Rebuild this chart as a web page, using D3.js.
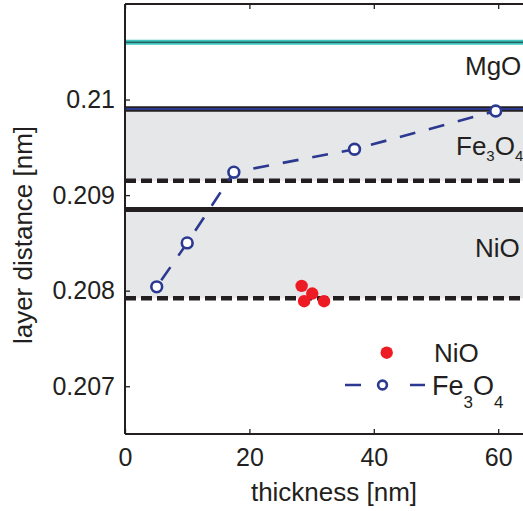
<!DOCTYPE html>
<html>
<head>
<meta charset="utf-8">
<script src="https://cdn.jsdelivr.net/npm/d3@7"></script>
<style>
  html, body { margin: 0; padding: 0; background: #fff; }
  svg { display: block; font-family: "Liberation Sans", Arial, Helvetica, sans-serif; }
</style>
</head>
<body>
<svg id="chart" width="523" height="511"></svg>
<script>
// Measured layer distances (nm) versus film thickness (nm)
const fe3o4Thickness = [5.1, 10.0, 17.5, 36.9, 59.6];
const fe3o4Distance  = [0.20804, 0.20850, 0.20924, 0.20948, 0.20988];

const nioThickness = [28.4, 30.1, 28.8, 32.0];
const nioDistance  = [0.20805, 0.20797, 0.20789, 0.20789];

// Reference layer distances: bulk and fully strained values
const mgoBulk      = 0.21060;
const fe3o4Bulk    = 0.20990;
const fe3o4Strain  = 0.20915;
const nioBulk      = 0.20885;
const nioStrain    = 0.20792;

const xTicks = [0, 20, 40, 60];
const yTicks = [0.207, 0.208, 0.209, 0.210];
const yTickLabels = ["0.207", "0.208", "0.209", "0.21"];

const W = 523, H = 511;
const mLeft = 125, mTop = 4, mBottom = 434;

const svg = d3.select("#chart");
const x = d3.scaleLinear().domain([0, 65]).range([mLeft, mLeft + 65 * 6.22]);
const y = d3.scaleLinear().domain([0.2065, 0.211]).range([mBottom, mTop]);

const ink = "#231f20", navy = "#2b3990", red = "#ed1c24", cyan = "#3ec3bd", band = "#e6e7e8";

svg.append("defs").append("clipPath").attr("id", "plotClip")
  .append("rect").attr("x", mLeft).attr("y", mTop)
  .attr("width", W - mLeft).attr("height", mBottom - mTop);

const plot = svg.append("g").attr("clip-path", "url(#plotClip)");
const x0 = x(0), x1 = x(65);

// shaded strain windows
[[fe3o4Bulk, fe3o4Strain], [nioBulk, nioStrain]].forEach(([a, b]) => {
  plot.append("rect").attr("x", x0).attr("width", x1 - x0)
    .attr("y", y(a)).attr("height", y(b) - y(a)).attr("fill", band);
});

function hline(v, color, width, dash) {
  const l = plot.append("line").attr("x1", x0).attr("x2", x1)
    .attr("y1", y(v)).attr("y2", y(v))
    .attr("stroke", color).attr("stroke-width", width);
  if (dash) l.attr("stroke-dasharray", dash);
  return l;
}

// MgO bulk: cyan with a thin dark core
hline(mgoBulk, cyan, 5);
hline(mgoBulk, "#1f3a3a", 1);
// Fe3O4 bulk: dark rule with navy core
hline(fe3o4Bulk, ink, 5.5);
hline(fe3o4Bulk, navy, 2);
hline(fe3o4Strain, ink, 4.5, "11,5");
hline(nioBulk, ink, 5);
hline(nioStrain, ink, 4.5, "11,5");

// Fe3O4 series
const fePts = fe3o4Thickness.map((t, i) => [t, fe3o4Distance[i]]);
plot.append("path")
  .attr("d", d3.line().x(d => x(d[0])).y(d => y(d[1]))(fePts))
  .attr("fill", "none").attr("stroke", navy).attr("stroke-width", 2.6)
  .attr("stroke-dasharray", "16,14").attr("stroke-dashoffset", -8);
plot.selectAll("circle.fe").data(fePts).join("circle").attr("class", "fe")
  .attr("cx", d => x(d[0])).attr("cy", d => y(d[1])).attr("r", 5.4)
  .attr("fill", "#fff").attr("stroke", navy).attr("stroke-width", 2.6);

// NiO series
const niPts = nioThickness.map((t, i) => [t, nioDistance[i]]);
plot.selectAll("circle.ni").data(niPts).join("circle").attr("class", "ni")
  .attr("cx", d => x(d[0])).attr("cy", d => y(d[1])).attr("r", 6.2)
  .attr("fill", red);

// axes
const axLeft = svg.append("g").attr("transform", `translate(${mLeft},0)`)
  .call(d3.axisLeft(y).tickValues(yTicks).tickSize(-5).tickPadding(10)
    .tickFormat((d, i) => yTickLabels[i]));
const axBottom = svg.append("g").attr("transform", `translate(0,${mBottom})`)
  .call(d3.axisBottom(x).tickValues(xTicks).tickSize(-5).tickPadding(14)
    .tickFormat(d3.format("d")));
const axTop = svg.append("g").attr("transform", `translate(0,${mTop})`)
  .call(d3.axisTop(x).tickValues(xTicks).tickSize(-5).tickFormat(""));

[axLeft, axBottom, axTop].forEach(g => {
  g.select(".domain").attr("stroke", ink).attr("stroke-width", 2);
  g.selectAll(".tick line").attr("stroke", ink).attr("stroke-width", 1.3);
  g.selectAll(".tick text").attr("fill", ink).attr("font-size", 25)
    .attr("font-family", "Liberation Sans, Arial, sans-serif");
});
axBottom.select(".domain").attr("d", `M${mLeft},0H${W}`);
axTop.select(".domain").attr("d", `M${mLeft},0H${W}`);
axLeft.select(".domain").attr("d", `M0,${mTop}V${mBottom}`);

// axis titles
svg.append("text").attr("x", 334).attr("y", 501).attr("text-anchor", "middle")
  .attr("font-size", 26).attr("fill", ink).text("thickness [nm]");
svg.append("text").attr("transform", "translate(32,235) rotate(-90)")
  .attr("text-anchor", "middle").attr("font-size", 26).attr("fill", ink)
  .text("layer distance [nm]");

// material labels
function formula(g, xPos, yPos, parts, size, subSize, subShift) {
  const t = g.append("text").attr("x", xPos).attr("y", yPos)
    .attr("font-size", size).attr("fill", ink);
  let shifted = false;
  parts.forEach(p => {
    const isSub = typeof p === "object";
    const s = t.append("tspan").text(isSub ? p.sub : p);
    if (isSub) { s.attr("font-size", subSize).attr("dy", shifted ? 0 : subShift); shifted = true; }
    else { if (shifted) { s.attr("dy", -subShift); shifted = false; } }
  });
  return t;
}
formula(svg, 465, 75, ["MgO"], 26);
formula(svg, 456, 155, ["Fe", {sub: "3"}, "O", {sub: "4"}], 26, 15, 6);
formula(svg, 475, 257, ["NiO"], 26);

// legend
const lg = svg.append("g");
lg.append("circle").attr("cx", 386.7).attr("cy", 352.7).attr("r", 6.2).attr("fill", red);
formula(lg, 434, 362, ["NiO"], 26);
lg.append("line").attr("x1", 345).attr("x2", 425).attr("y1", 385).attr("y2", 385)
  .attr("stroke", navy).attr("stroke-width", 2.6).attr("stroke-dasharray", "16,49,16");
lg.append("circle").attr("cx", 382.5).attr("cy", 385).attr("r", 4.4)
  .attr("fill", "#fff").attr("stroke", navy).attr("stroke-width", 2.6);
formula(lg, 432, 395, ["Fe", {sub: "3"}, "O", {sub: "4"}], 27, 17, 13);
</script>
</body>
</html>
